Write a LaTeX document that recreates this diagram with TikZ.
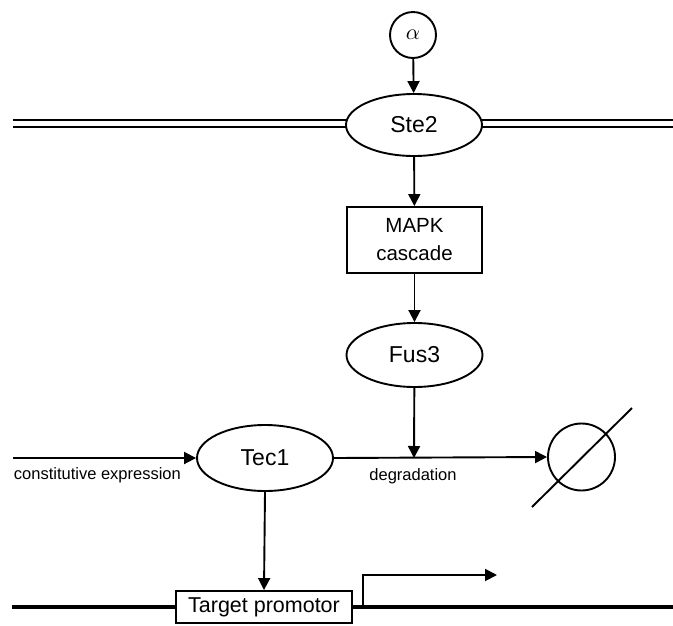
\documentclass[tikz,border=0pt]{standalone}
\usepackage{fontspec}
\setmainfont{Liberation Sans}
\usetikzlibrary{arrows.meta,shapes.geometric}
\begin{document}
\begin{tikzpicture}[x=1pt,y=-1pt,
  line width=1.9pt,
  arr/.style={-{Triangle[length=12pt,width=12pt]}},
  ell/.style={draw,ellipse,minimum width=136pt,minimum height=62pt,inner sep=0pt,font=\fontsize{23}{27}\selectfont},
  boxn/.style={draw,rectangle,inner sep=0pt},
  lbl/.style={font=\fontsize{16.5}{20}\selectfont,inner sep=0pt}]
\useasboundingbox (0,0) rectangle (673,625);
% nodes
\node[draw,circle,minimum size=46pt,inner sep=0pt] (alpha) at (413,35) {\scalebox{2.2}{$\alpha$}};
\node[ell] (ste2) at (414,125) {Ste2};
\node[boxn,minimum width=135pt,minimum height=66pt,align=center,font=\fontsize{20.5}{28}\selectfont] (mapk) at (414.5,240) {MAPK\\cascade};
\node[ell,minimum height=64pt] (fus3) at (414.5,355) {Fus3};
\node[ell,minimum height=66pt] (tec1) at (265,458) {Tec1};
\node[draw,circle,minimum size=67pt,inner sep=0pt] (empty) at (581.5,457) {};
\node[boxn,fill=white,minimum width=176pt,minimum height=32pt,font=\fontsize{21.5}{26}\selectfont] (prom) at (264,607) {Target promotor};
% coordinates
\coordinate (memL) at (13,123.5);
\coordinate (memR) at (673,123.5);
\coordinate (cin) at (13,458);
\coordinate (deg) at (414,458);
\coordinate (slA) at (532,507);
\coordinate (slB) at (632,408);
\coordinate (dnaL) at (12,607);
\coordinate (dnaR) at (673,607);
\coordinate (tss) at (363,607);
\coordinate (tssTop) at (363,575);
\coordinate (tssEnd) at (497,575);
% membrane
\draw ([yshift=3.4pt]memL) -- ([yshift=3.4pt,xshift=1pt]ste2.west |- memL);
\draw ([yshift=-3.4pt]memL) -- ([yshift=-3.4pt,xshift=1pt]ste2.west |- memL);
\draw ([yshift=3.4pt,xshift=-1pt]ste2.east |- memR) -- ([yshift=3.4pt]memR);
\draw ([yshift=-3.4pt,xshift=-1pt]ste2.east |- memR) -- ([yshift=-3.4pt]memR);
% arrows
\draw[arr] (alpha) -- (ste2);
\draw[arr] (ste2) -- (mapk);
\draw[arr] (mapk) -- (fus3);
\draw[arr] (fus3) -- (deg);
\draw[arr] (cin) -- (tec1.west);
\draw[arr] (tec1.east) -- (empty.west);
\draw (slA) -- (slB);
\draw[arr] (tec1.south) -- (prom.north);
% DNA
\draw[line width=3.3pt] (dnaL) -- (prom.west);
\draw[line width=3.3pt] (prom.east) -- (dnaR);
\draw[arr] (tss) -- (tssTop) -- (tssEnd);
% labels
\node[lbl,anchor=west] (lce) at (13,475) {constitutive expression};
\node[lbl] (ldeg) at (413,476) {degradation};
\end{tikzpicture}
\end{document}
